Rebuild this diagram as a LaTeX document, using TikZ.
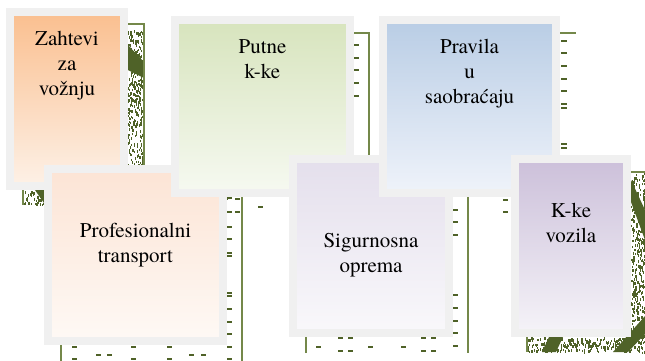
\documentclass[tikz,border=0pt]{standalone}
\usepackage{fontspec}
\setmainfont{TeX Gyre Termes}
\usepackage{xcolor}
\usepackage{tikz}

\definecolor{rim}{HTML}{F0F0F0}
\definecolor{leaf}{HTML}{4F6228}
\definecolor{stem}{HTML}{74884A}
\definecolor{orangetop}{HTML}{FABF8F}
\definecolor{orangebot}{HTML}{FDF1E7}
\definecolor{greentop}{HTML}{D7E4BD}
\definecolor{greenbot}{HTML}{F6F9F1}
\definecolor{bluetop}{HTML}{B9CDE5}
\definecolor{bluebot}{HTML}{EFF3FA}
\definecolor{peachtop}{HTML}{FCE4D5}
\definecolor{peachbot}{HTML}{FEF9F5}
\definecolor{lilactop}{HTML}{E4DFEC}
\definecolor{lilacbot}{HTML}{F9F8FB}
\definecolor{plumtop}{HTML}{CCC0DA}
\definecolor{plumbot}{HTML}{F5F3F8}

\tikzset{
  card/.style={draw=rim, line width=8pt, inner sep=0pt},
  cardtext/.style={anchor=north, align=center, inner sep=0pt,
    font=\fontsize{21}{25}\selectfont},
  frameline/.style={stem, line width=1.2pt},
  olivedash/.style={leaf, line width=1.8pt},
}

\begin{document}
\begin{tikzpicture}[x=1pt,y=-1pt]
\useasboundingbox (0,0) rectangle (645,360);

% textured frames behind the two narrow cards
\pgfmathsetseed{11}
\foreach \i in {1,...,330} \fill[leaf] ({128+15*rnd},{30+135*rnd}) rectangle ++(1.2,2.6);
\foreach \i in {1,...,40} \fill[leaf] ({22+21*rnd},{190+14*rnd}) rectangle ++(1.2,2.6);
\fill[leaf] (128,45) -- (144,62) -- (144,78) -- (128,70) -- cycle;
\fill[leaf] (35,190) -- (44,190) -- (44,203) -- cycle;
\draw[frameline] (128,24) -- (144,24) -- (144,165);
\draw[frameline] (23,190) -- (23,205);

\foreach \i in {1,...,380} \fill[leaf] ({631+14*rnd},{172+180*rnd}) rectangle ++(1.2,2.6);
\foreach \i in {1,...,230} \fill[leaf] ({527+104*rnd},{337+14*rnd}) rectangle ++(1.2,2.6);
\fill[leaf] (631,180) -- (645,210) -- (645,240) -- (631,202) -- cycle;
\fill[leaf] (645,316) -- (645,334) -- (628,352) -- (613,352) -- cycle;
\fill[leaf] (549,337) -- (563,337) -- (556,352) -- (542,352) -- cycle;
\draw[frameline] (631,172) -- (645,172);
\draw[frameline] (527,337) -- (527,352);

% dashed frames behind the wide cards
\draw[frameline] (187,213) -- (187,33) -- (369,33) -- (369,213);
\draw[frameline] (396,213) -- (396,33) -- (576,33);
\draw[frameline] (61,361) -- (61,181) -- (242,181) -- (242,361);
\draw[frameline] (306,353) -- (306,171) -- (468,171) -- (468,353);

\foreach \y in {45,58,70,83,96} \draw[olivedash] (354,\y) -- ++(5,0);
\foreach \y in {41,53,66,79,91,104,108,144,148} \draw[olivedash] (561,\y) -- ++(6,0);
\foreach \y in {198,212,227,239,253,256,293,296,309,322,334,347,359} \draw[olivedash] (227,\y) -- ++(5,0);
\foreach \y in {210,222,235,295,308,321,333,346} \draw[olivedash] (453,\y) -- ++(5,0);
\foreach \x/\y in {199/207,223/199,235/199,223/212,235/212,258/207,
                   408/199,408/212,432/207,443/207,503/200,503/212,
                   72/347,131/347,167/347,96/355,107/355,189/355,201/355,
                   72/359,131/359,167/359,
                   338/338,348/338,421/338,431/338,316/347,368/347,401/347,
                   338/351,348/351,421/351,431/351}
  \draw[olivedash] (\x,\y) -- ++(5,0);

% cards, back to front
\node[card, top color=orangetop, bottom color=orangebot,
      minimum width=114pt, minimum height=174pt] (zahtevi) at (67,99) {};
\node[cardtext] (zahtevitxt) at (67,30.7) {Zahtevi\\za\\vožnju};

\node[card, top color=peachtop, bottom color=peachbot,
      minimum width=175pt, minimum height=172pt] (transport) at (135.5,255) {};
\node[cardtext] (transporttxt) at (135.5,222.7) {Profesionalni\\transport};

\node[card, top color=greentop, bottom color=greenbot,
      minimum width=175pt, minimum height=173pt] (putne) at (262.5,106.5) {};
\node[cardtext] (putnetxt) at (262.5,39) {Putne\\k-ke};

\node[card, top color=lilactop, bottom color=lilacbot,
      minimum width=156pt, minimum height=174pt] (oprema) at (371,246) {};
\node[cardtext] (oprematxt) at (371,232.7) {Sigurnosna\\oprema};

\node[card, top color=bluetop, bottom color=bluebot,
      minimum width=173pt, minimum height=173pt] (pravila) at (469.5,106.5) {};
\node[cardtext] (pravilatxt) at (469.5,38.7) {Pravila\\u\\saobraćaju};

\node[card, top color=plumtop, bottom color=plumbot,
      minimum width=112pt, minimum height=174pt] (vozila) at (571,246) {};
\node[cardtext] (vozilatxt) at (571,202.7) {K-ke\\vozila};
\end{tikzpicture}
\end{document}
